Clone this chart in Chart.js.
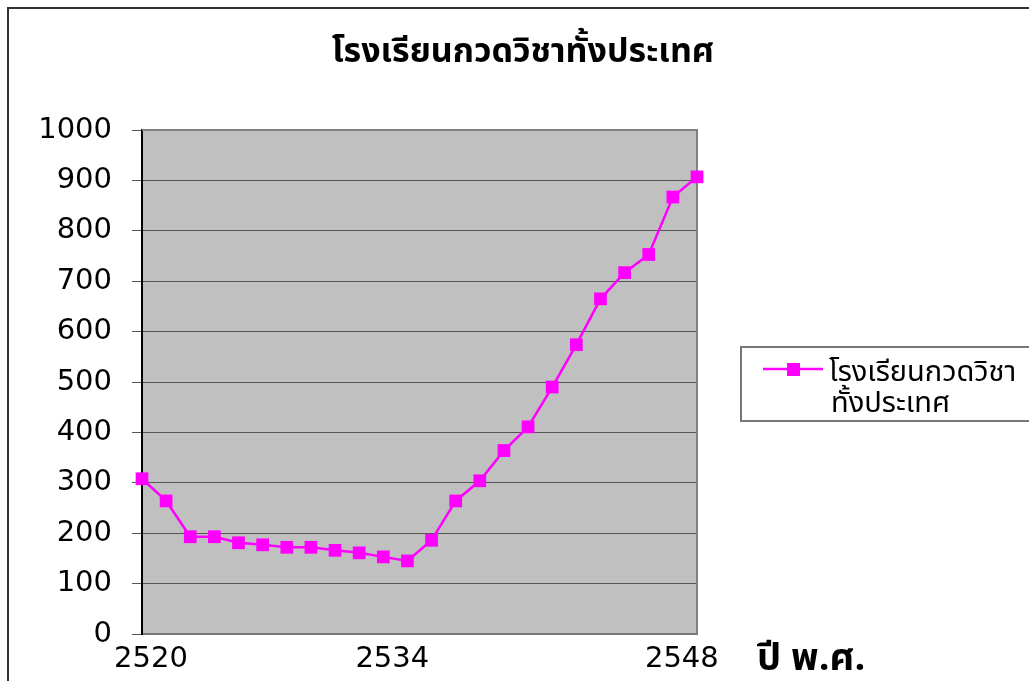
<!DOCTYPE html>
<html>
<head>
<meta charset="utf-8">
<script src="https://cdn.jsdelivr.net/npm/chart.js@4/dist/chart.umd.min.js"></script>
<style>
  html, body { margin: 0; padding: 0; background: #fff; }
  #wrap { width: 1029px; height: 681px; position: relative; }
</style>
</head>
<body>
<div id="wrap"><canvas id="grafico" width="1029" height="681"></canvas></div>
<script>
// Datos
const titulo = 'โรงเรียนกวดวิชาทั้งประเทศ';
const serieNombre = ['โรงเรียนกวดวิชา', 'ทั้งประเทศ'];
const ejeX = 'ปี พ.ศ.';
const categorias = ['2520', '', '', '', '', '', '', '', '', '', '2534', '', '',
                    '', '', '', '', '', '', '', '', '', '2548', ''];
const escuelas = [308, 264, 193, 193, 181, 177, 172, 172, 166, 161, 153, 145,
                  186, 264, 304, 364, 411, 490, 574, 665, 717, 753, 867, 907];
const ticksY = [0, 100, 200, 300, 400, 500, 600, 700, 800, 900, 1000];

const fuenteThai = "Tahoma, 'Noto Sans Thai', 'Noto Sans', 'DejaVu Sans', sans-serif";
const fuenteNum = "'DejaVu Sans', sans-serif";
const magenta = '#FF00FF';

// Fondo gris del área del gráfico y textos extra
const fondoPlugin = {
    id: 'fondo',
    beforeDraw(chart) {
        const a = chart.chartArea;
        const ctx = chart.ctx;
        ctx.save();
        ctx.fillStyle = '#C0C0C0';
        ctx.fillRect(a.left, a.top, a.right - a.left, a.bottom - a.top);
        ctx.restore();
    },
    beforeDatasetsDraw(chart) {
        const a = chart.chartArea;
        const ctx = chart.ctx;
        ctx.save();
        ctx.strokeStyle = '#808080';
        ctx.lineWidth = 2;
        ctx.beginPath();
        ctx.moveTo(a.left, a.top);
        ctx.lineTo(a.right, a.top);
        ctx.lineTo(a.right, a.bottom);
        ctx.stroke();
        ctx.restore();
    },
    afterDraw(chart) {
        const ctx = chart.ctx;
        ctx.save();

        // marco exterior
        ctx.strokeStyle = '#333';
        ctx.lineWidth = 2;
        ctx.beginPath();
        ctx.moveTo(8, chart.height);
        ctx.lineTo(8, 8);
        ctx.lineTo(chart.width, 8);
        ctx.stroke();

        // título
        ctx.fillStyle = '#000';
        ctx.font = 'bold 34px ' + fuenteThai;
        ctx.textAlign = 'center';
        ctx.textBaseline = 'alphabetic';
        ctx.fillText(titulo, 523, 62);

        // título del eje X
        ctx.textAlign = 'left';
        ctx.font = 'bold 38px ' + fuenteThai;
        ctx.fillText(ejeX, 757, 670);

        // leyenda
        ctx.fillStyle = '#fff';
        ctx.fillRect(741, 347, 300, 74);
        ctx.strokeStyle = '#777';
        ctx.lineWidth = 2;
        ctx.strokeRect(741, 347, 300, 74);
        ctx.strokeStyle = magenta;
        ctx.lineWidth = 2.5;
        ctx.beginPath();
        ctx.moveTo(763, 369);
        ctx.lineTo(823, 369);
        ctx.stroke();
        ctx.fillStyle = magenta;
        ctx.fillRect(787, 363, 13, 13);
        ctx.fillStyle = '#000';
        ctx.font = '29px ' + fuenteThai;
        ctx.fillText(serieNombre[0], 829, 381);
        ctx.fillText(serieNombre[1], 831, 412);

        ctx.restore();
    }
};

const ctx = document.getElementById('grafico').getContext('2d');
const grafico = new Chart(ctx, {
    type: 'line',
    data: {
        labels: categorias,
        datasets: [{
            label: serieNombre.join(''),
            data: escuelas,
            borderColor: magenta,
            backgroundColor: magenta,
            borderWidth: 2.5,
            tension: 0,
            fill: false,
            pointStyle: 'rect',
            pointRadius: 9,
            pointBorderWidth: 0,
            pointBackgroundColor: magenta
        }]
    },
    options: {
        responsive: false,
        animation: false,
        layout: { padding: { top: 130, right: 332, left: 0, bottom: 0 } },
        scales: {
            x: {
                type: 'category',
                offset: false,
                grid: { display: false, drawTicks: false },
                border: { color: '#777', width: 2 },
                ticks: {
                    autoSkip: false,
                    maxRotation: 0,
                    labelOffset: 9,
                    padding: 8,
                    color: '#000',
                    font: { family: fuenteNum, size: 29 }
                },
                afterFit(scale) { scale.height = 47; }
            },
            y: {
                min: 0,
                max: 1000,
                afterBuildTicks(scale) { scale.ticks = ticksY.map(v => ({ value: v })); },
                grid: { color: '#555', lineWidth: 1, tickLength: 10, tickColor: '#555' },
                border: { color: '#000', width: 2 },
                ticks: {
                    padding: 20,
                    color: '#000',
                    font: { family: fuenteNum, size: 29 },
                    callback: (v) => String(v)
                },
                afterFit(scale) { scale.width = 142; }
            }
        },
        plugins: {
            legend: { display: false },
            title: { display: false },
            tooltip: { enabled: false }
        }
    },
    plugins: [fondoPlugin]
});
</script>
</body>
</html>
